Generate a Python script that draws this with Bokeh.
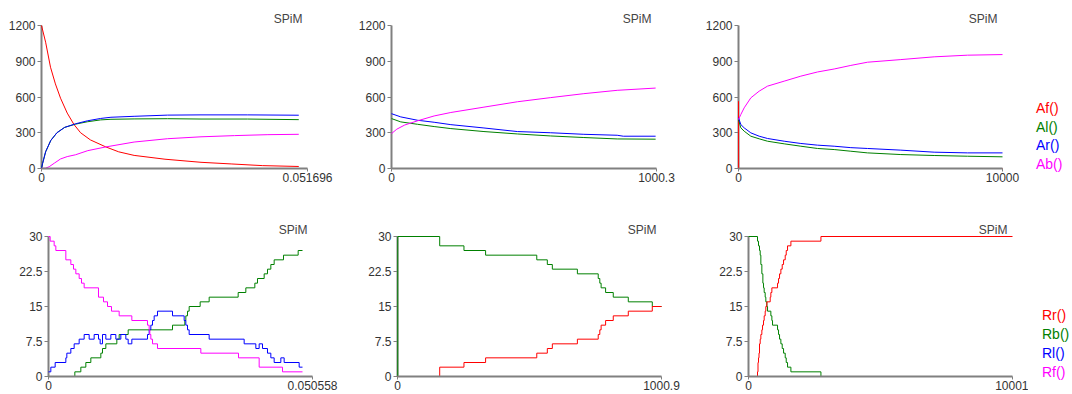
from bokeh.plotting import figure
from bokeh.layouts import row, column
from bokeh.models import Range1d, FixedTicker, CustomJSTickFormatter, Div
from bokeh.embed import file_html
from bokeh.resources import INLINE

# ---------------- data ----------------
TITLE = "SPiM"
top_names = ["Af()", "Al()", "Ar()", "Ab()"]
bot_names = ["Rr()", "Rb()", "Rl()", "Rf()"]
top_yticks = [0, 300, 600, 900, 1200]
bot_yticks = [0, 7.5, 15, 22.5, 30]

# panel 1 (top left)
p1_xmax = 0.051696
p1_af_t = [0, 0.0008, 0.00175, 0.0027, 0.0037, 0.0050, 0.0063, 0.0076, 0.0095, 0.0125, 0.0150, 0.0180, 0.0240, 0.0310, 0.0370, 0.0430, 0.0500]
p1_af_v = [1200, 1060, 850, 710, 590, 465, 370, 300, 240, 181, 140, 110, 78, 52, 38, 24, 17]
p1_al_t = [0, 0.0002, 0.0008, 0.0018, 0.0030, 0.0045, 0.0066, 0.0089, 0.0115, 0.0135, 0.0180, 0.0245, 0.0310, 0.0400, 0.0500]
p1_al_v = [0, 40, 140, 235, 300, 345, 372, 392, 408, 413, 416, 418, 415, 415, 410]
p1_ar_t = [0, 0.0002, 0.0008, 0.0018, 0.0030, 0.0045, 0.0066, 0.0089, 0.0115, 0.0135, 0.0180, 0.0245, 0.0310, 0.0400, 0.0500]
p1_ar_v = [0, 40, 140, 235, 300, 345, 375, 400, 420, 430, 438, 448, 450, 450, 447]
p1_ab_t = [0, 0.0008, 0.0015, 0.0025, 0.0037, 0.0050, 0.0066, 0.0090, 0.0125, 0.0180, 0.0245, 0.0310, 0.0375, 0.0440, 0.0500]
p1_ab_v = [0, 3, 15, 45, 80, 100, 115, 150, 181, 222, 250, 266, 276, 284, 287]

# panel 2 (top middle)
p2_xmax = 1000.3
p2_al_t = [0, 35, 98, 161, 224, 349, 475, 601, 726, 852, 997]
p2_al_v = [419, 391, 371, 352, 335, 310, 290, 273, 260, 248, 246]
p2_ar_t = [0, 35, 98, 161, 224, 349, 475, 601, 726, 852, 875, 997]
p2_ar_v = [460, 433, 405, 388, 368, 340, 310, 300, 287, 279, 271, 271]
p2_ab_t = [0, 20, 50, 98, 161, 224, 349, 475, 601, 726, 852, 997]
p2_ab_v = [293, 330, 365, 400, 441, 470, 515, 560, 595, 628, 656, 675]

# panel 3 (top right)
p3_xmax = 10000
p3_t = [0, 88, 215, 467, 783, 1098, 1730, 2361, 2992, 3624, 4255, 4886, 6149, 7412, 8674, 10000]
p3_af_t = [0, 5, 10000]
p3_af_v = [565, 0, 0]
p3_al_v = [411, 341, 313, 271, 249, 229, 207, 187, 168, 159, 145, 131, 117, 109, 103, 98]
p3_ar_v = [425, 369, 341, 299, 271, 252, 229, 210, 196, 187, 175, 168, 154, 137, 131, 131]
p3_ab_v = [411, 453, 509, 593, 649, 691, 733, 775, 810, 835, 865, 892, 914, 937, 951, 956]

# panel 4 (bottom left)
p4_xmax = 0.050558
p4_rf_t = [0, 0.000319, 0.001085, 0.001404, 0.003319, 0.004277, 0.004788, 0.005235, 0.005873, 0.006320, 0.006830,
           0.009575, 0.010533, 0.011299, 0.012065, 0.013533, 0.015959, 0.018959, 0.019278, 0.019406, 0.019598,
           0.019917, 0.020874, 0.029173, 0.036386, 0.040344, 0.044813, 0.048643]
p4_rf_v = [30, 29, 28, 27, 25, 24, 23, 22, 21, 20, 19, 17, 16, 15, 14, 13, 12, 11, 10, 9, 8, 7, 6, 5, 4, 2, 1, 1]
p4_rl_t = [0, 0.000447, 0.001277, 0.003319, 0.003511, 0.004277, 0.004915, 0.005873, 0.006830, 0.007788, 0.008746,
           0.009575, 0.009895, 0.010341, 0.010980, 0.011937, 0.012895, 0.013852, 0.014810, 0.015257, 0.015959,
           0.018959, 0.019278, 0.019598, 0.019917, 0.020236, 0.020874, 0.023747, 0.025981, 0.026300, 0.026620,
           0.026939, 0.030769, 0.037472, 0.039706, 0.040344, 0.040983, 0.041940, 0.042579, 0.043217, 0.044493,
           0.045131, 0.048005, 0.048643]
p4_rl_v = [1, 2, 3, 4, 5, 6, 7, 8, 9, 8, 9, 8, 7, 9, 8, 9, 8, 9, 8, 7, 8, 9, 10, 11, 12, 13, 14, 13, 12, 11, 10,
           9, 8, 7, 6, 7, 6, 5, 4, 3, 4, 3, 2, 2]
p4_rb_t = [0, 0.005043, 0.006192, 0.007150, 0.008107, 0.010022, 0.010341, 0.010980, 0.013086, 0.013533, 0.015257,
           0.023747, 0.026109, 0.026300, 0.026620, 0.026939, 0.029045, 0.030769, 0.036323, 0.037791, 0.039514,
           0.040025, 0.041302, 0.041940, 0.042579, 0.043217, 0.045004, 0.047813, 0.048643]
p4_rb_v = [0, 1, 2, 3, 4, 5, 6, 7, 8, 9, 10, 11, 12, 13, 14, 15, 16, 17, 18, 19, 20, 21, 22, 23, 24, 25, 26, 27, 27]

# panel 5 (bottom middle)
p5_xmax = 1000.9
p5_rb_t = [0, 1, 160, 252, 334, 528, 568, 587, 682, 761, 767, 772, 789, 818, 875, 966, 1000.9]
p5_rb_v = [0, 30, 28, 27, 26, 25, 24, 23, 22, 21, 20, 19, 18, 17, 16, 15, 15]
p5_rr_t = [0, 160, 252, 334, 528, 568, 587, 682, 761, 767, 772, 789, 818, 875, 966, 1000.9]
p5_rr_v = [0, 2, 3, 4, 5, 6, 7, 8, 9, 10, 11, 12, 13, 14, 15, 15]

# panel 6 (bottom right)
p6_xmax = 10001
p6_rb_t = [0, 341, 379, 417, 443, 468, 506, 544, 569, 594, 632, 657, 695, 721, 847, 885, 910, 1100, 1138, 1176,
           1226, 1277, 1328, 1391, 1429, 1479, 1606, 2744]
p6_rb_v = [30, 29, 28, 27, 26, 24, 22, 20, 19, 18, 17, 16, 15, 14, 13, 12, 11, 10, 9, 8, 7, 6, 5, 4, 3, 2, 1, 0]
p6_rr_t = [0, 341, 360, 379, 398, 417, 443, 468, 506, 532, 569, 594, 632, 657, 695, 822, 847, 885, 1100, 1138,
           1176, 1226, 1277, 1328, 1391, 1429, 1479, 1606, 2744, 10001]
p6_rr_v = [0, 1, 3, 4, 5, 7, 8, 9, 10, 11, 12, 13, 14, 15, 16, 17, 18, 19, 20, 21, 22, 23, 24, 25, 26, 27, 28,
           29, 30, 30]

# ---------------- style ----------------
RED, GREEN, BLUE, MAGENTA = "#ff0000", "#008000", "#0000ff", "#ff00ff"
LEGEND_COLORS = [RED, GREEN, BLUE, MAGENTA]
FONT = "Liberation Sans"
AXIS_COLOR = "#808080"
LABEL_COLOR = "#333333"
LINE_LEVEL = "annotation"   # above the y axis rule, below the x axis rule


def panel(width, height, xmax, ymax, yticks, bl, br, bt, bb):
    p = figure(width=width, height=height, x_range=Range1d(0, xmax), y_range=Range1d(0, ymax),
               toolbar_location=None, output_backend="svg",
               min_border_left=bl, min_border_right=br, min_border_top=bt, min_border_bottom=bb)
    p.title.text = TITLE
    p.title.align = "right"
    p.title.offset = 5
    p.title.standoff = 0
    p.title.text_font = FONT
    p.title.text_font_size = "12px"
    p.title.text_font_style = "normal"
    p.title.text_color = "#444444"
    p.xgrid.visible = False
    p.ygrid.visible = False
    p.outline_line_color = None
    p.xaxis.ticker = FixedTicker(ticks=[0, xmax], minor_ticks=[])
    p.yaxis.ticker = FixedTicker(ticks=yticks, minor_ticks=[])
    fmt = "return String(tick);"
    p.xaxis.formatter = CustomJSTickFormatter(code=fmt)
    p.yaxis.formatter = CustomJSTickFormatter(code=fmt)
    for ax in (p.xaxis, p.yaxis):
        ax.axis_line_color = AXIS_COLOR
        ax.axis_line_width = 2
        ax.major_tick_line_color = AXIS_COLOR
        ax.major_tick_line_width = 1
        ax.major_tick_in = 0
        ax.minor_tick_line_color = None
        ax.major_label_text_font = FONT
        ax.major_label_text_font_size = "12px"
        ax.major_label_text_color = LABEL_COLOR
    p.xaxis.major_tick_out = 3
    p.xaxis.major_label_standoff = 1
    p.yaxis.major_tick_out = 4
    p.yaxis.major_label_standoff = 2
    p.xaxis.level = "overlay"
    return p


def curve(p, t, v, color):
    p.line(t, v, color=color, line_width=1, level=LINE_LEVEL)


def stairs(p, t, v, color):
    p.step(t, v, mode="after", color=color, line_width=1, level=LINE_LEVEL)


def legend_div(width, height, names, colors, pad_top, pad_left, line_h):
    spans = "<br>".join('<span style="color:%s">%s</span>' % (c, n) for n, c in zip(names, colors))
    html = ('<div style="padding-top:%dpx; padding-left:%dpx; font-family:\'%s\'; font-size:14px; '
            'line-height:%spx; white-space:nowrap;">%s</div>' % (pad_top, pad_left, FONT, line_h, spans))
    return Div(text=html, width=width, height=height, margin=0)


TH, BH = 200, 194
# top row: frame 25..168
f1 = panel(350, TH, p1_xmax, 1200, top_yticks, 41, 43, 25, 32)
curve(f1, p1_af_t, p1_af_v, RED)
curve(f1, p1_al_t, p1_al_v, GREEN)
curve(f1, p1_ar_t, p1_ar_v, BLUE)
curve(f1, p1_ab_t, p1_ab_v, MAGENTA)

f2 = panel(350, TH, p2_xmax, 1200, top_yticks, 41, 44, 25, 32)
curve(f2, p2_al_t, p2_al_v, GREEN)
curve(f2, p2_ar_t, p2_ar_v, BLUE)
curve(f2, p2_ab_t, p2_ab_v, MAGENTA)

f3 = panel(328, TH, p3_xmax, 1200, top_yticks, 38, 26, 25, 32)
curve(f3, p3_af_t, p3_af_v, RED)
curve(f3, p3_t, p3_al_v, GREEN)
curve(f3, p3_t, p3_ar_v, BLUE)
curve(f3, p3_t, p3_ab_v, MAGENTA)

# bottom row: frame 236..376
f4 = panel(355, BH, p4_xmax, 30, bot_yticks, 48, 43, 36, 18)
stairs(f4, p4_rb_t, p4_rb_v, GREEN)
stairs(f4, p4_rl_t, p4_rl_v, BLUE)
stairs(f4, p4_rf_t, p4_rf_v, MAGENTA)

f5 = panel(350, BH, p5_xmax, 30, bot_yticks, 42, 44, 36, 18)
stairs(f5, p5_rb_t, p5_rb_v, GREEN)
stairs(f5, p5_rr_t, p5_rr_v, RED)

f6 = panel(323, BH, p6_xmax, 30, bot_yticks, 43, 16, 36, 18)
stairs(f6, p6_rb_t, p6_rb_v, GREEN)
stairs(f6, p6_rr_t, p6_rr_v, RED)

leg1 = legend_div(44, TH, top_names, LEGEND_COLORS, 99, 8, 18.7)
leg2 = legend_div(44, BH, bot_names, LEGEND_COLORS, 106, 14, 19)

left = column(row(f1, f2, f3), row(f4, f5, f6))
layout = row(left, column(leg1, leg2))

open("out.html", "w").write(file_html(layout, INLINE))
